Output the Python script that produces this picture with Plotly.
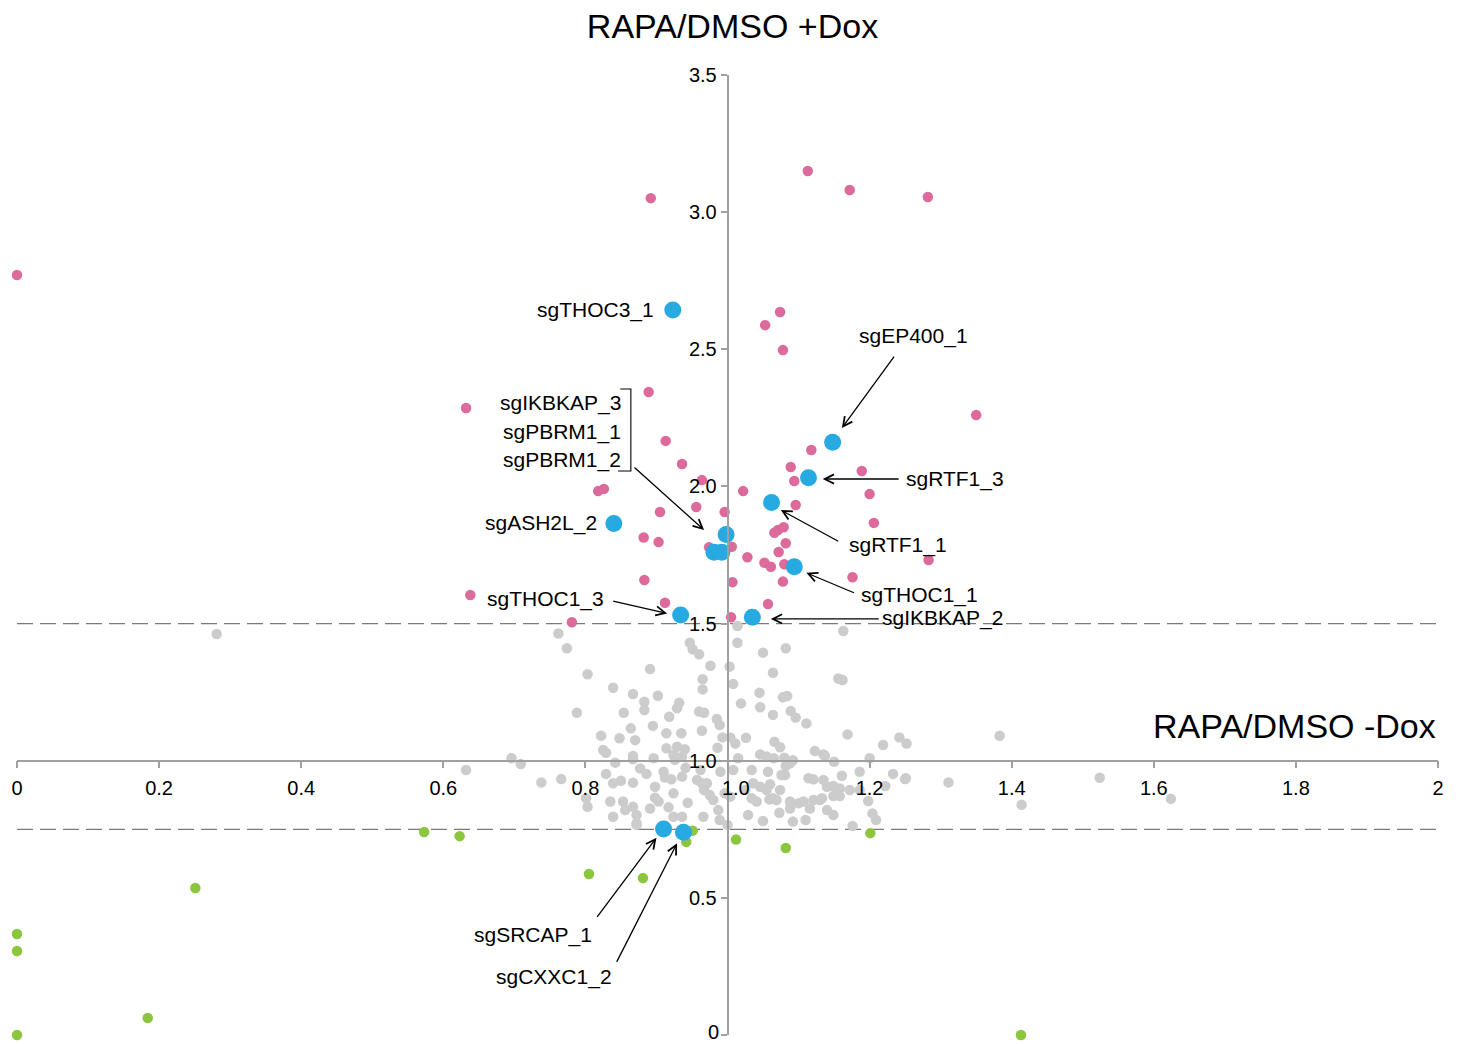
import plotly.graph_objects as go

# ---------------- data ----------------
grey_x = [0.762, 0.774, 0.947, 0.951, 0.960, 1.014, 1.014, 1.163, 1.050, 1.082,
          0.803, 0.891, 0.976, 1.003, 0.965, 0.965, 1.008, 1.064, 1.156, 1.162,
          0.839, 0.867, 0.902, 0.883, 0.883, 0.932, 0.929, 1.045, 1.019, 1.046,
          1.078, 1.084, 1.064, 1.089, 1.096, 1.111, 0.788, 0.854, 0.918, 0.960,
          0.967, 0.985, 0.895, 0.864, 0.822, 0.848, 0.870, 0.914, 0.935, 0.964,
          0.993, 1.004, 1.011, 1.026, 1.066, 1.074, 1.169, 1.242, 1.252, 1.219,
          0.825, 0.829, 0.914, 0.929, 0.986, 0.940, 0.924, 0.926, 0.936, 0.867,
          0.867, 0.896, 0.842, 0.696, 0.709, 1.015, 1.046, 1.055, 1.065, 1.080,
          1.088, 1.123, 1.135, 1.137, 1.150, 1.200, 1.034, 0.877, 0.886, 0.910,
          0.941, 0.962, 0.990, 1.008, 0.829, 0.738, 0.766, 1.081, 1.082, 1.114,
          1.121, 1.161, 1.186, 1.233, 1.251, 1.311, 0.839, 0.867, 0.912, 0.921,
          0.936, 0.957, 0.964, 0.971, 1.036, 1.046, 1.060, 1.055, 1.140, 1.149,
          1.172, 0.801, 0.803, 0.835, 0.853, 0.856, 0.898, 0.903, 0.924, 0.944,
          0.967, 0.975, 0.980, 0.996, 1.004, 1.025, 1.034, 1.041, 1.059, 1.069,
          1.088, 1.100, 1.121, 1.130, 1.149, 1.158, 1.198, 1.204, 1.209, 0.867,
          0.872, 0.917, 0.924, 0.966, 0.987, 0.989, 1.029, 1.050, 1.073, 1.092,
          1.110, 1.140, 1.149, 1.176, 0.839, 0.872, 1.000, 0.936, 0.281, 0.632,
          1.383, 1.524, 1.624, 1.414, 1.222, 1.250, 0.850, 0.898, 0.891, 0.872,
          0.989, 1.092, 1.057, 1.076, 1.135, 1.158, 1.074, 1.064, 1.107, 1.133,
          1.088, 1.116, 1.186]
grey_y = [1.464, 1.410, 1.430, 1.406, 1.388, 1.491, 1.430, 1.473, 1.394, 1.410,
          1.315, 1.334, 1.346, 1.343, 1.297, 1.260, 1.280, 1.321, 1.300, 1.294,
          1.266, 1.243, 1.237, 1.215, 1.185, 1.211, 1.191, 1.248, 1.209, 1.195,
          1.231, 1.236, 1.167, 1.181, 1.157, 1.136, 1.175, 1.175, 1.160, 1.179,
          1.175, 1.152, 1.127, 1.118, 1.091, 1.082, 1.075, 1.100, 1.100, 1.109,
          1.085, 1.085, 1.063, 1.084, 1.069, 1.049, 1.096, 1.085, 1.063, 1.057,
          1.039, 1.029, 1.045, 1.051, 1.047, 1.042, 1.021, 1.003, 1.015, 1.017,
          1.005, 1.009, 0.993, 1.009, 0.988, 1.009, 1.023, 1.015, 1.009, 1.011,
          0.991, 1.035, 1.023, 1.017, 0.996, 1.009, 0.966, 0.972, 0.952, 0.960,
          0.974, 0.966, 0.960, 0.966, 0.952, 0.921, 0.933, 0.948, 0.981, 0.936,
          0.932, 0.945, 0.960, 0.952, 0.936, 0.921, 0.918, 0.920, 0.939, 0.932,
          0.942, 0.930, 0.918, 0.918, 0.918, 0.905, 0.914, 0.893, 0.905, 0.908,
          0.893, 0.863, 0.832, 0.851, 0.851, 0.820, 0.865, 0.851, 0.881, 0.847,
          0.893, 0.875, 0.857, 0.881, 0.869, 0.893, 0.863, 0.851, 0.859, 0.857,
          0.851, 0.845, 0.857, 0.857, 0.871, 0.871, 0.853, 0.808, 0.784, 0.832,
          0.802, 0.830, 0.796, 0.796, 0.820, 0.784, 0.802, 0.780, 0.810, 0.778,
          0.784, 0.820, 0.802, 0.762, 0.796, 0.772, 0.766, 0.796, 1.462, 0.966,
          1.091, 0.938, 0.861, 0.839, 0.908, 0.933, 0.927, 0.905, 0.826, 0.766,
          1.130, 1.002, 0.960, 0.948, 0.930, 0.899, 0.893, 0.863, 0.851, 0.863,
          0.826, 0.826, 0.893]

pink_x = [0.000, 0.892, 1.113, 1.172, 1.282, 1.074, 1.053, 1.078, 0.889, 0.632,
          1.350, 0.913, 1.118, 0.936, 1.089, 1.189, 0.964, 1.094, 0.818, 0.826,
          1.022, 1.200, 0.956, 0.996, 0.905, 1.096, 1.206, 1.066, 1.071, 1.079,
          0.882, 0.903, 1.082, 0.974, 1.006, 1.028, 1.072, 1.052, 1.061, 1.080,
          1.283, 1.176, 0.883, 1.007, 1.078, 0.638, 0.912, 1.057, 1.005, 0.781]
pink_y = [2.771, 3.051, 3.150, 3.081, 3.055, 2.636, 2.588, 2.497, 2.344, 2.286,
          2.260, 2.166, 2.133, 2.082, 2.071, 2.056, 2.023, 2.020, 1.983, 1.991,
          1.983, 1.972, 1.925, 1.907, 1.907, 1.932, 1.867, 1.831, 1.841, 1.851,
          1.814, 1.797, 1.793, 1.778, 1.780, 1.742, 1.761, 1.722, 1.707, 1.716,
          1.732, 1.669, 1.659, 1.651, 1.653, 1.604, 1.576, 1.571, 1.523, 1.505]

green_x = [0.000, 0.000, 0.000, 0.184, 0.251, 0.573, 0.623, 0.805, 0.881, 0.951,
           0.942, 1.012, 1.082, 1.201, 1.413]
green_y = [0.368, 0.306, 0.000, 0.062, 0.536, 0.740, 0.725, 0.587, 0.572, 0.745,
           0.704, 0.713, 0.682, 0.736, 0.000]

blue_names = ["sgTHOC3_1", "sgEP400_1", "sgRTF1_3", "sgRTF1_1", "sgASH2L_2",
              "sgIKBKAP_3", "sgPBRM1_1", "sgPBRM1_2", "sgTHOC1_1", "sgTHOC1_3",
              "sgIKBKAP_2", "sgSRCAP_1", "sgCXXC1_2"]
blue_x = [0.923, 1.148, 1.114, 1.062, 0.840, 0.998, 0.981, 0.992, 1.094, 0.934,
          1.035, 0.910, 0.938]
blue_y = [2.643, 2.161, 2.032, 1.941, 1.865, 1.825, 1.760, 1.760, 1.707, 1.531,
          1.523, 0.751, 0.739]

# label text placements (data coords) and anchors
label_text = ["sgTHOC3_1", "sgEP400_1", "sgRTF1_3", "sgRTF1_1", "sgTHOC1_1",
              "sgIKBKAP_2", "sgTHOC1_3", "sgASH2L_2", "sgIKBKAP_3", "sgPBRM1_1",
              "sgPBRM1_2", "sgSRCAP_1", "sgCXXC1_2"]
label_x = [0.899, 1.262, 1.248, 1.168, 1.185, 1.215, 0.829, 0.819, 0.853, 0.853,
           0.853, 0.812, 0.840]
label_y = [2.643, 2.548, 2.027, 1.786, 1.604, 1.520, 1.590, 1.867, 2.304, 2.198,
           2.096, 0.365, 0.211]
label_anchor = ["right", "center", "left", "left", "left", "left", "right", "right",
                "right", "right", "right", "right", "right"]

# arrows: head (x, y) and tail (x, y) in data coords
arrow_head_x = [1.161, 1.134, 1.075, 1.111, 1.061, 0.915, 0.967, 0.900, 0.929]
arrow_head_y = [2.213, 2.027, 1.914, 1.685, 1.517, 1.537, 1.841, 0.719, 0.699]
arrow_tail_x = [1.236, 1.243, 1.158, 1.180, 1.215, 0.837, 0.867, 0.815, 0.843]
arrow_tail_y = [2.479, 2.027, 1.797, 1.610, 1.517, 1.583, 2.074, 0.425, 0.261]

x_ticks = [0, 0.2, 0.4, 0.6, 0.8, 1.0, 1.2, 1.4, 1.6, 1.8, 2.0]
x_ticktext = ["0", "0.2", "0.4", "0.6", "0.8", "\u00a0\u00a0\u00a01.0", "1.2", "1.4", "1.6", "1.8", "2"]
y_ticks = [0, 0.5, 1.0, 1.5, 2.0, 2.5, 3.0, 3.5]
y_ticktext = ["0", "0.5", "1.0", "1.5", "2.0", "2.5", "3.0", "3.5"]
thresholds = [1.5, 0.75]
x_cross = 1.0   # where the y axis crosses the x axis

# ---------------- figure ----------------
FONT = "Liberation Sans, Arial, Helvetica, sans-serif"
AXC = "#a0a0a0"

fig = go.Figure()
fig.add_trace(go.Scatter(x=grey_x, y=grey_y, mode="markers", cliponaxis=False,
                         marker=dict(size=10.5, color="#cccccc", line=dict(width=0)),
                         hoverinfo="skip"))
fig.add_trace(go.Scatter(x=pink_x, y=pink_y, mode="markers", cliponaxis=False,
                         marker=dict(size=10.5, color="#dc6a9b", line=dict(width=0))))
fig.add_trace(go.Scatter(x=green_x, y=green_y, mode="markers", cliponaxis=False,
                         marker=dict(size=10.5, color="#8cc63e", line=dict(width=0))))
fig.add_trace(go.Scatter(x=blue_x, y=blue_y, mode="markers", cliponaxis=False,
                         text=blue_names,
                         marker=dict(size=17, color="#27a9e1", line=dict(width=0))))

shapes = []
for t in thresholds:
    shapes.append(dict(type="line", xref="x", yref="y", x0=0, x1=2, y0=t, y1=t,
                       line=dict(color="#7a7a7a", width=1.3, dash="16px,7px"), layer="below"))
# bracket for grouped labels
shapes.append(dict(type="path", xref="x", yref="y",
                   path="M 0.849 2.355 L 0.864 2.355 L 0.864 2.056 L 0.846 2.056",
                   line=dict(color="black", width=1.1)))
# bottom y tick (plotly drops the tick at the range edge)
shapes.append(dict(type="line", xref="x", yref="y", xsizemode="pixel", xanchor=x_cross,
                   x0=-6, x1=0, y0=y_ticks[0], y1=y_ticks[0],
                   line=dict(color=AXC, width=1.5)))

annotations = []
for t, x, y, a in zip(label_text, label_x, label_y, label_anchor):
    annotations.append(dict(x=x, y=y, xref="x", yref="y", text=t, showarrow=False,
                            xanchor=a, yanchor="middle",
                            font=dict(family=FONT, size=21, color="black")))
for hx, hy, tx, ty in zip(arrow_head_x, arrow_head_y, arrow_tail_x, arrow_tail_y):
    annotations.append(dict(x=hx, y=hy, xref="x", yref="y", ax=tx, ay=ty,
                            axref="x", ayref="y", text="", showarrow=True,
                            arrowhead=5, arrowsize=1.4, arrowwidth=1.3,
                            arrowcolor="black", standoff=0, startstandoff=0))
annotations.append(dict(x=x_cross, y=y_ticks[0], xref="x", yref="y", text=y_ticktext[0],
                        showarrow=False, xanchor="right", yanchor="middle",
                        xshift=-8, yshift=3, borderpad=0,
                        font=dict(family=FONT, size=20, color="black")))
annotations.append(dict(x=2.0, y=1.127, xref="x", yref="y",
                        text="RAPA/DMSO -Dox", showarrow=False, xanchor="right",
                        yanchor="middle", font=dict(family=FONT, size=34, color="black")))

fig.update_layout(
    width=1460, height=1044,
    margin=dict(l=17, r=22, t=75, b=9, autoexpand=False),
    paper_bgcolor="white", plot_bgcolor="white",
    showlegend=False,
    font=dict(family=FONT, color="black"),
    title=dict(text="RAPA/DMSO +Dox", x=732.5 / 1460, xref="container", xanchor="center",
               y=1 - 26 / 1044, yref="container", yanchor="middle",
               font=dict(family=FONT, size=34, color="black")),
    xaxis=dict(range=[0, 2], anchor="free", position=1.0 / 3.5,
               tickmode="array", tickvals=x_ticks, ticktext=x_ticktext,
               showline=True, linecolor=AXC, linewidth=1.5,
               ticks="outside", ticklen=7, tickwidth=1.5, tickcolor=AXC,
               ticklabelstandoff=3,
               showgrid=False, zeroline=False,
               tickfont=dict(family=FONT, size=20, color="black")),
    yaxis=dict(range=[0, 3.5], anchor="free", position=0.5, side="left",
               tickmode="array", tickvals=y_ticks, ticktext=y_ticktext,
               showline=True, linecolor=AXC, linewidth=1.5,
               ticks="outside", ticklen=6, tickwidth=1.5, tickcolor=AXC,
               showgrid=False, zeroline=False,
               tickfont=dict(family=FONT, size=20, color="black")),
    shapes=shapes,
    annotations=annotations,
)

fig.write_html("out.html")
